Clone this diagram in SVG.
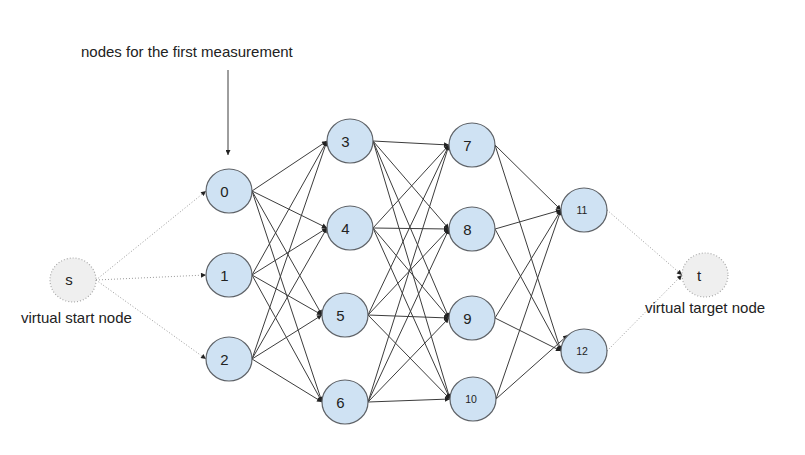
<svg xmlns="http://www.w3.org/2000/svg" width="805" height="455" viewBox="0 0 805 455">
<defs>
<marker id="ah" viewBox="0 0 10 10" refX="10" refY="5" markerWidth="6" markerHeight="5" markerUnits="userSpaceOnUse" orient="auto">
<path d="M0,0 L10,5 L0,10 z" fill="#222"/>
</marker>
<style>
.e{stroke:#3c3c3c;stroke-width:1;fill:none;marker-end:url(#ah)}
.d{stroke:#9a9a9a;stroke-width:1;stroke-dasharray:1 2;fill:none;marker-end:url(#ah)}
.n{fill:#cfe2f3;stroke:#5f6368;stroke-width:1.2}
.v{fill:#efefef;stroke:#a8a8a8;stroke-width:1.2;stroke-dasharray:1 2}
.t{font-family:"Liberation Sans",Arial,sans-serif;font-size:15px;fill:#222;text-anchor:middle}
.ts{font-family:"Liberation Sans",Arial,sans-serif;font-size:10.5px;fill:#222;text-anchor:middle}
.l{font-family:"Liberation Sans",Arial,sans-serif;font-size:15px;fill:#222}
</style>
</defs>
<rect width="805" height="455" fill="#fff"/>
<g id="connectors">
<line class="e" x1="228" y1="70" x2="228" y2="155"/>
<line class="d" x1="96" y1="280" x2="206" y2="191"/>
<line class="d" x1="96" y1="280" x2="206" y2="275"/>
<line class="d" x1="96" y1="280" x2="206" y2="359"/>
<line class="e" x1="252" y1="191" x2="327" y2="141"/>
<line class="e" x1="252" y1="191" x2="327" y2="228"/>
<line class="e" x1="252" y1="191" x2="322" y2="315"/>
<line class="e" x1="252" y1="191" x2="322" y2="402"/>
<line class="e" x1="252" y1="275" x2="327" y2="141"/>
<line class="e" x1="252" y1="275" x2="327" y2="228"/>
<line class="e" x1="252" y1="275" x2="322" y2="315"/>
<line class="e" x1="252" y1="275" x2="322" y2="402"/>
<line class="e" x1="252" y1="359" x2="327" y2="141"/>
<line class="e" x1="252" y1="359" x2="327" y2="228"/>
<line class="e" x1="252" y1="359" x2="322" y2="315"/>
<line class="e" x1="252" y1="359" x2="322" y2="402"/>
<line class="e" x1="373" y1="141" x2="449" y2="145"/>
<line class="e" x1="373" y1="141" x2="449" y2="229"/>
<line class="e" x1="373" y1="141" x2="449" y2="318"/>
<line class="e" x1="373" y1="141" x2="450" y2="399"/>
<line class="e" x1="373" y1="228" x2="449" y2="145"/>
<line class="e" x1="373" y1="228" x2="449" y2="229"/>
<line class="e" x1="373" y1="228" x2="449" y2="318"/>
<line class="e" x1="373" y1="228" x2="450" y2="399"/>
<line class="e" x1="368" y1="315" x2="449" y2="145"/>
<line class="e" x1="368" y1="315" x2="449" y2="229"/>
<line class="e" x1="368" y1="315" x2="449" y2="318"/>
<line class="e" x1="368" y1="315" x2="450" y2="399"/>
<line class="e" x1="368" y1="402" x2="449" y2="145"/>
<line class="e" x1="368" y1="402" x2="449" y2="229"/>
<line class="e" x1="368" y1="402" x2="449" y2="318"/>
<line class="e" x1="368" y1="402" x2="450" y2="399"/>
<line class="e" x1="495" y1="145" x2="561" y2="210"/>
<line class="e" x1="495" y1="145" x2="561" y2="351"/>
<line class="e" x1="495" y1="229" x2="561" y2="210"/>
<line class="e" x1="495" y1="229" x2="561" y2="351"/>
<line class="e" x1="495" y1="318" x2="561" y2="210"/>
<line class="e" x1="495" y1="318" x2="561" y2="351"/>
<line class="e" x1="496" y1="399" x2="561" y2="210"/>
<line class="e" x1="496" y1="399" x2="568" y2="335"/>
<line class="d" x1="607" y1="210" x2="682" y2="275"/>
<line class="d" x1="607" y1="351" x2="682" y2="275"/>
</g>
<g id="node-s"><ellipse class="v" cx="73" cy="280" rx="23" ry="22"/><text class="t" x="69" y="285">s</text></g>
<g id="node-0"><ellipse class="n" cx="229" cy="191" rx="23" ry="22"/><text class="t" x="224.5" y="197">0</text></g>
<g id="node-1"><ellipse class="n" cx="229" cy="275" rx="23" ry="22"/><text class="t" x="224.5" y="281">1</text></g>
<g id="node-2"><ellipse class="n" cx="229" cy="359" rx="23" ry="22"/><text class="t" x="224.5" y="365">2</text></g>
<g id="node-3"><ellipse class="n" cx="350" cy="141" rx="23" ry="22"/><text class="t" x="345.5" y="147">3</text></g>
<g id="node-4"><ellipse class="n" cx="350" cy="228" rx="23" ry="22"/><text class="t" x="345.5" y="234">4</text></g>
<g id="node-5"><ellipse class="n" cx="345" cy="315" rx="23" ry="22"/><text class="t" x="340.5" y="321">5</text></g>
<g id="node-6"><ellipse class="n" cx="345" cy="402" rx="23" ry="22"/><text class="t" x="340.5" y="408">6</text></g>
<g id="node-7"><ellipse class="n" cx="472" cy="145" rx="23" ry="22"/><text class="t" x="467.5" y="151">7</text></g>
<g id="node-8"><ellipse class="n" cx="472" cy="229" rx="23" ry="22"/><text class="t" x="467.5" y="235">8</text></g>
<g id="node-9"><ellipse class="n" cx="472" cy="318" rx="23" ry="22"/><text class="t" x="467.5" y="324">9</text></g>
<g id="node-10"><ellipse class="n" cx="473" cy="399" rx="23" ry="22"/><text class="ts" x="471" y="403">10</text></g>
<g id="node-11"><ellipse class="n" cx="584" cy="210" rx="23" ry="22"/><text class="ts" x="582" y="214">11</text></g>
<g id="node-12"><ellipse class="n" cx="584" cy="351" rx="23" ry="22"/><text class="ts" x="582" y="355">12</text></g>
<g id="node-t"><ellipse class="v" cx="705" cy="275" rx="23" ry="22"/><text class="t" x="699" y="281">t</text></g>
<g id="labels">
<text class="l" x="81" y="57">nodes for the first measurement</text>
<text class="l" x="21" y="323">virtual start node</text>
<text class="l" x="645" y="313">virtual target node</text>
</g>
</svg>
